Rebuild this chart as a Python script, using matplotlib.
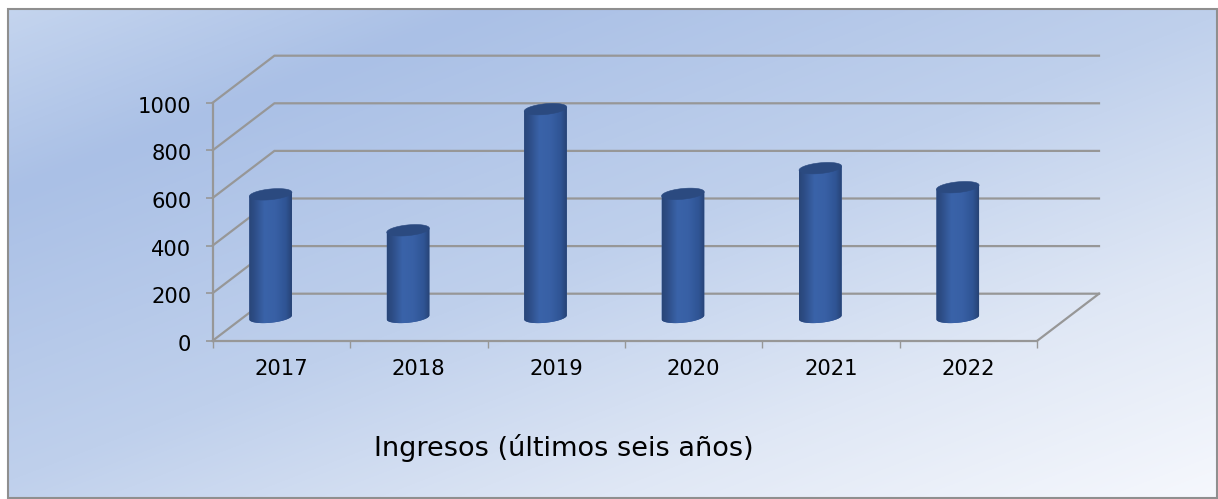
import numpy as np
import matplotlib
matplotlib.use("Agg")
import matplotlib.pyplot as plt
from matplotlib.colors import LinearSegmentedColormap
from matplotlib.patches import Polygon, Rectangle
from matplotlib.transforms import Affine2D

years = ["2017", "2018", "2019", "2020", "2021", "2022"]
ingresos = [517, 366, 875, 519, 627, 547]
y_ticks = [0, 200, 400, 600, 800, 1000]
titulo = "Ingresos (últimos seis años)"

W, H = 1218, 499
fig = plt.figure(figsize=(W / 100, H / 100), dpi=100, facecolor="white")
plt.rcParams["font.family"] = "DejaVu Sans"

# background panel
bg = fig.add_axes([0, 0, 1, 1], zorder=0)
bg.set_xlim(0, W); bg.set_ylim(H, 0); bg.axis("off")
xx, yy = np.meshgrid(np.arange(W), np.arange(H))
t = np.clip((xx + 2.6 * yy) / 2515.0, 0, 1)
bg_cmap = LinearSegmentedColormap.from_list("bg", [
    (0.0, "#c6d6ef"), (0.2, "#aac0e6"), (0.5, "#bfd0ec"),
    (0.75, "#dfe7f5"), (1.0, "#f6f8fd")])
panel = Rectangle((8, 9), 1209, 489, facecolor="none", edgecolor="#8f8f8f", lw=1.5, zorder=3)
bg.add_patch(panel)
img = bg.imshow(t, cmap=bg_cmap, vmin=0, vmax=1, extent=(0, W, H, 0), aspect="auto", zorder=1)
img.set_clip_path(panel)

# chart axes: front plane of the 3-D box
left, right, top, bottom = 212.7, 1037.3, 102.7, 340.7
ax = fig.add_axes([left / W, 1 - bottom / H, (right - left) / W, (bottom - top) / H], zorder=1)
ax.patch.set_visible(False)
n = len(years)
GRID = "#979797"
LW = 1.6
DX, DY = 0.449, 197.5   # box depth in data units
for s in ("top", "right"):
    ax.spines[s].set_visible(False)
for s in ("left", "bottom"):
    ax.spines[s].set_color(GRID); ax.spines[s].set_linewidth(LW)

for v in y_ticks:
    ax.plot([0, DX, n + DX], [v, v + DY, v + DY], color=GRID, lw=LW, clip_on=False, zorder=1,
            solid_joinstyle="miter")
ax.plot([n, n + DX], [0, DY], color=GRID, lw=LW, clip_on=False, zorder=1)

# cylinders
side = LinearSegmentedColormap.from_list("cyl", [
    (0.0, "#294678"), (0.12, "#2d4d86"), (0.36, "#3a63a9"), (0.62, "#3860a5"),
    (0.86, "#2f5494"), (1.0, "#274375")])
grad = np.linspace(0, 1, 128).reshape(1, -1)
A = 0.155       # half width, categories
B = 22.5        # ellipse half height, value units
TILT = 8.5      # rise of the right end, value units
BASE = 98.0
OFF = 0.4215
th = np.linspace(0, 2 * np.pi, 121)
for i, v in enumerate(ingresos):
    cx = i + OFF
    top_y = BASE + v
    low = np.linspace(np.pi, 2 * np.pi, 61)
    bx = cx + A * np.cos(low)
    by = BASE + TILT * np.cos(low) + B * np.sin(low)
    xs = np.r_[cx - A, cx + A, bx[::-1]]
    ys = np.r_[top_y - TILT, top_y + TILT, by[::-1]]
    body = Polygon(np.c_[xs, ys], closed=True, facecolor="#33599c", edgecolor="none", zorder=3, clip_on=False)
    ax.add_patch(body)
    im = ax.imshow(grad, cmap=side, extent=(cx - A, cx + A, BASE - 40, top_y + 40), aspect="auto", zorder=3.1)
    im.set_clip_path(body)
    cap = Polygon(np.c_[cx + A * np.cos(th), top_y + TILT * np.cos(th) + B * np.sin(th)], closed=True,
                  facecolor="#2b4a80", edgecolor="#2b4a80", lw=0.4, zorder=3.2, clip_on=False)
    ax.add_patch(cap)

ax.set_xlim(0, n); ax.set_ylim(0, 1000)
ax.set_xticks(np.arange(n + 1)); ax.set_xticklabels([])
ax.set_xticks(np.arange(n) + 0.5, labels=years, minor=True)
ax.tick_params(axis="x", which="major", length=4.8, width=1, color=GRID)
ax.tick_params(axis="x", which="minor", length=0, pad=13.5, labelsize=15.2, labelcolor="black")
ax.set_yticks(y_ticks)
ax.tick_params(axis="y", length=4.8, width=1.2, color=GRID, labelsize=15.2, labelcolor="black", pad=10.5)
for lab in ax.get_yticklabels():
    lab.set_transform(lab.get_transform() + Affine2D().translate(0, -2))

fig.text(563.5 / W, 1 - 448 / H, titulo, ha="center", va="center", fontsize=19.5, color="black")
fig.savefig("out.png", dpi=100)
